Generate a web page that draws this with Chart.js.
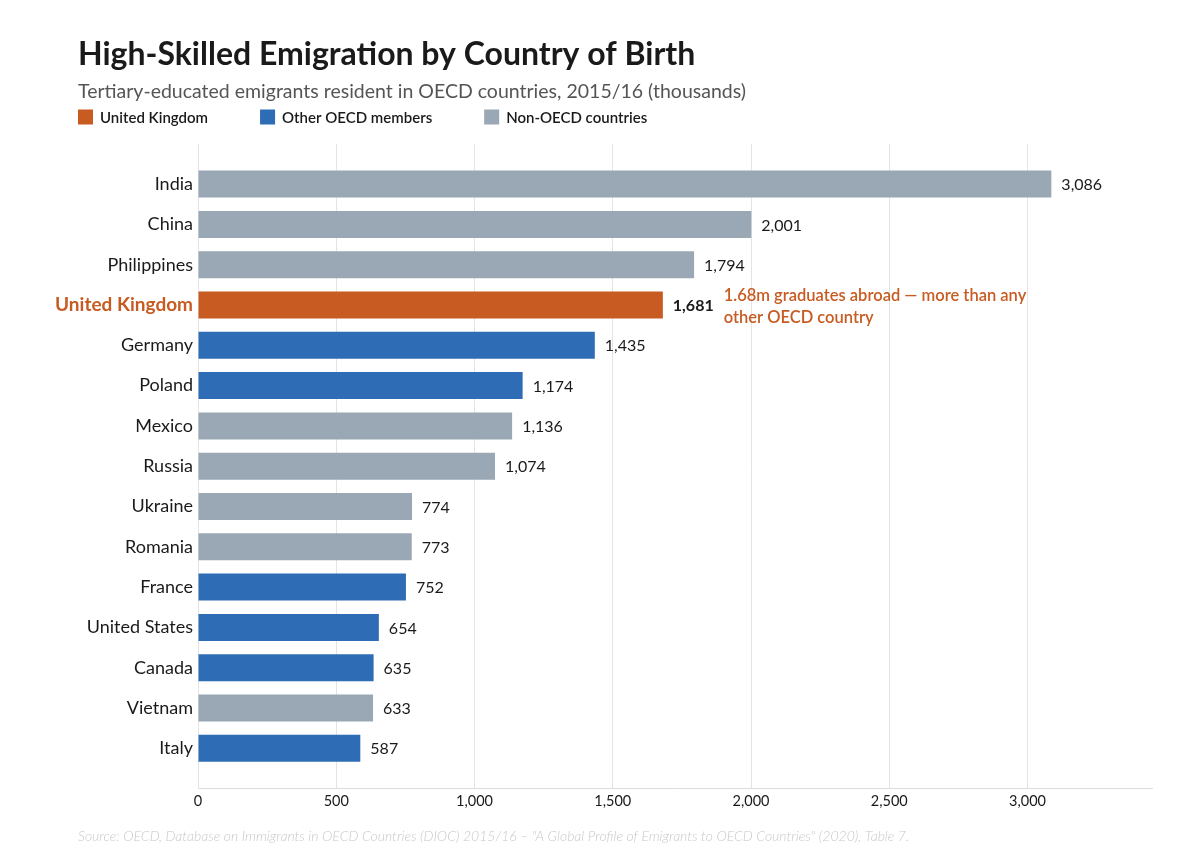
<!DOCTYPE html>
<html>
<head>
<meta charset="utf-8">
<title>High-Skilled Emigration by Country of Birth</title>
<script src="https://cdn.jsdelivr.net/npm/chart.js@4"></script>
<style>
  html, body { margin: 0; padding: 0; background: #fff; }
  #wrap { width: 1200px; height: 864px; }
</style>
</head>
<body>
<div id="wrap"><canvas id="myChart" width="1200" height="864"></canvas></div>
<script>
// data (thousands)
var countries = ['India', 'China', 'Philippines', 'United Kingdom', 'Germany', 'Poland', 'Mexico',
  'Russia', 'Ukraine', 'Romania', 'France', 'United States', 'Canada', 'Vietnam', 'Italy'];
var emigrants = [3086, 2001, 1794, 1681, 1435, 1174, 1136, 1074, 774, 773, 752, 654, 635, 633, 587];
var groups = ['non', 'non', 'non', 'uk', 'oecd', 'oecd', 'non', 'non', 'non', 'non', 'oecd', 'oecd', 'oecd', 'non', 'oecd'];
var xTicks = [0, 500, 1000, 1500, 2000, 2500, 3000];
var legendLabels = ['United Kingdom', 'Other OECD members', 'Non-OECD countries'];
var legendKeys = ['uk', 'oecd', 'non'];

var colors = { uk: '#c75b21', oecd: '#2e6cb5', non: '#9aa7b4' };
var FONT = 'Lato, "Open Sans", sans-serif';
var ukIdx = groups.indexOf('uk');

function fmt(v) { return v.toLocaleString('en-US'); }

var extras = {
  id: 'extras',
  afterLayout: function(chart) {
    // title + subtitle sit 30px further in than the y labels
    chart.boxes.forEach(function(b) {
      if (b.options && typeof b.options.text == 'string') {
        b.left += 30;
      }
    });
  },
  afterDatasetsDraw: function(chart) {
    var ctx = chart.ctx;
    var meta = chart.getDatasetMeta(0);
    ctx.save();
    ctx.textBaseline = 'middle';
    ctx.textAlign = 'left';
    meta.data.forEach(function(bar, i) {
      var uk = groups[i] == 'uk';
      ctx.font = (uk ? 'bold ' : '') + '16px ' + FONT;
      ctx.fillStyle = '#1a1a1a';
      var txt = fmt(emigrants[i]);
      ctx.fillText(txt, bar.x + 10, bar.y + 1);
      if (uk) {
        var ax = bar.x + 10 + ctx.measureText(txt).width + 10;
        ctx.font = '600 16.5px ' + FONT;
        ctx.fillStyle = colors.uk;
        ctx.fillText('1.68m graduates abroad \u2014 more than any', ax, bar.y - 9);
        ctx.fillText('other OECD country', ax, bar.y + 13);
      }
    });
    ctx.restore();
  },
  afterDraw: function(chart) {
    var ctx = chart.ctx;
    ctx.save();
    // legend
    ctx.textBaseline = 'middle';
    ctx.textAlign = 'left';
    ctx.font = '600 15px ' + FONT;
    var x = 78, y = 117;
    legendLabels.forEach(function(lab, i) {
      ctx.fillStyle = colors[legendKeys[i]];
      ctx.fillRect(x, y - 7.5, 15, 15);
      ctx.fillStyle = '#1a1a1a';
      ctx.fillText(lab, x + 22, y + 1);
      x += 22 + ctx.measureText(lab).width + 52;
    });
    // source
    ctx.font = 'italic 300 14px ' + FONT;
    ctx.fillStyle = '#c8c8c8';
    ctx.fillText('Source: OECD, Database on Immigrants in OECD Countries (DIOC) 2015/16 \u2013 "A Global Profile of Emigrants to OECD Countries" (2020), Table 7.', 78, 836);
    ctx.restore();
  }
};

new Chart('myChart', {
  type: 'bar',
  data: {
    datasets: [{
      data: countries.map(function(c, i) { return { x: emigrants[i], y: i }; }),
      backgroundColor: groups.map(function(g) { return colors[g]; }),
      categoryPercentage: 0.67,
      barPercentage: 1
    }]
  },
  options: {
    indexAxis: 'y',
    responsive: false,
    animation: false,
    layout: { padding: { left: 48, right: 48, top: 0, bottom: 50 } },
    plugins: {
      legend: { display: false },
      tooltip: { enabled: false },
      title: {
        display: true,
        text: 'High-Skilled Emigration by Country of Birth',
        align: 'start',
        color: '#1a1a1a',
        font: { family: FONT, size: 32, weight: 'bold' },
        padding: { top: 35, bottom: 0 }
      },
      subtitle: {
        display: true,
        text: 'Tertiary-educated emigrants resident in OECD countries, 2015/16 (thousands)',
        align: 'start',
        color: '#555',
        font: { family: FONT, size: 19.5 },
        padding: { top: 7, bottom: 40 }
      }
    },
    scales: {
      x: {
        type: 'linear',
        min: 0,
        max: 3450,
        afterBuildTicks: function(scale) {
          scale.ticks = xTicks.map(function(v) { return { value: v }; });
        },
        ticks: {
          color: '#1a1a1a',
          padding: 4,
          font: { family: FONT, size: 14.5 },
          callback: function(v) { return fmt(v); }
        },
        grid: { color: '#e4e4e4', drawTicks: false },
        border: { color: '#dcdcdc' }
      },
      y: {
        type: 'linear',
        reverse: true,
        offset: false,
        min: -1,
        max: 15,
        afterFit: function(scale) { scale.width = 150; },
        ticks: {
          stepSize: 1,
          autoSkip: false,
          padding: 5,
          callback: function(v) { return countries[v] || ''; },
          color: function(c) { return c.tick && c.tick.value === ukIdx ? colors.uk : '#1a1a1a'; },
          font: function(c) {
            var uk = c.tick && c.tick.value === ukIdx;
            return { family: FONT, size: uk ? 19 : 18, weight: uk ? 'bold' : 'normal' };
          }
        },
        grid: { display: false, drawTicks: false, offset: false },
        border: { display: false }
      }
    }
  },
  plugins: [extras]
});
</script>
</body>
</html>
